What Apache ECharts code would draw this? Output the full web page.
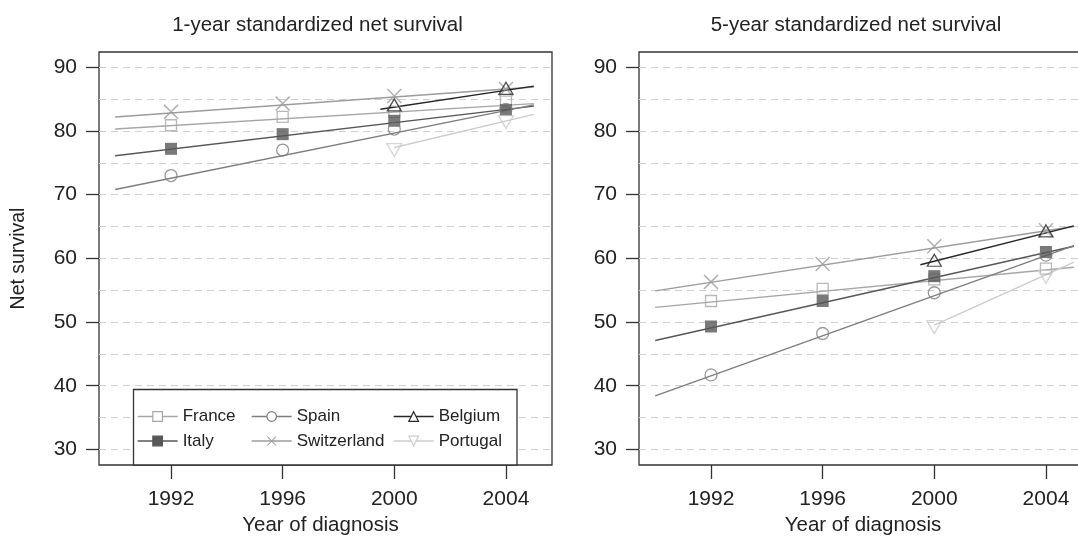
<!DOCTYPE html>
<html>
<head>
<meta charset="utf-8">
<script src="https://cdn.jsdelivr.net/npm/echarts@6/dist/echarts.min.js"></script>
<style>
  html, body { margin: 0; padding: 0; background: #fff; }
  #chart { width: 1078px; height: 538px; }
</style>
</head>
<body>
<div id="chart"></div>
<script>
// Years of diagnosis with observed estimates
const years = [1992, 1996, 2000, 2004];
const countries = ['France', 'Italy', 'Spain', 'Switzerland', 'Belgium', 'Portugal'];
const yTicks = [30, 40, 50, 60, 70, 80, 90];
const gridValues = [30, 35, 40, 45, 50, 55, 60, 65, 70, 75, 80, 85, 90];

// 1-year standardized net survival (%), one value per year of diagnosis
const france1 = [80.9, 82.2, 83.0, 84.6];
const italy1 = [77.2, 79.5, 81.6, 83.3];
const spain1 = [73.0, 77.0, 80.3, 83.4];
const switzerland1 = [83.0, 84.3, 85.5, 86.6];
const belgium1 = [null, null, 84.1, 86.7];
const portugal1 = [null, null, 77.0, 81.4];

// 5-year standardized net survival (%)
const france5 = [53.3, 55.2, 56.7, 58.4];
const italy5 = [49.3, 53.3, 57.2, 61.0];
const spain5 = [41.7, 48.2, 54.6, 60.5];
const switzerland5 = [56.3, 59.1, 61.9, 64.4];
const belgium5 = [null, null, 59.7, 64.3];
const portugal5 = [null, null, 49.2, 57.1];

// Linear trend lines: [year, survival] at each end
const franceTrend1 = [[1990, 80.3], [2005, 84.3]];
const italyTrend1 = [[1990, 76.1], [2005, 83.9]];
const spainTrend1 = [[1990, 70.8], [2005, 84.1]];
const switzerlandTrend1 = [[1990, 82.2], [2005, 86.9]];
const belgiumTrend1 = [[1999.5, 83.4], [2005, 87.05]];
const portugalTrend1 = [[2000, 77.4], [2005, 82.6]];

const franceTrend5 = [[1990, 52.3], [2005, 58.6]];
const italyTrend5 = [[1990, 47.1], [2005, 61.9]];
const spainTrend5 = [[1990, 38.4], [2005, 62.0]];
const switzerlandTrend5 = [[1990, 54.9], [2005, 65.0]];
const belgiumTrend5 = [[1999.5, 59.0], [2005, 65.1]];
const portugalTrend5 = [[2000, 49.5], [2005, 59.4]];

const FONT = '"Liberation Sans", Arial, Helvetica, sans-serif';
const TEXT = '#222';
const FRAME = '#333';
const X_PATH = 'path://M0,0.7 L0.7,0 L5,4.3 L9.3,0 L10,0.7 L5.7,5 L10,9.3 L9.3,10 L5,5.7 L0.7,10 L0,9.3 L4.3,5 Z';

// Marker look for each country
const looks = {
  France:      { color: '#a6a6a6', symbol: 'rect', size: 11, hollow: true },
  Italy:       { color: '#575757', symbol: 'rect', size: 12, hollow: false },
  Spain:       { color: '#7e7e7e', symbol: 'circle', size: 12, hollow: true },
  Switzerland: { color: '#9c9c9c', symbol: X_PATH, size: 15, hollow: false },
  Belgium:     { color: '#262626', symbol: 'triangle', size: [14, 12], hollow: true },
  Portugal:    { color: '#cccccc', symbol: 'triangle', size: [15, 13], hollow: true, rotate: 180 }
};

function markerStyle(lk) {
  return lk.hollow
    ? { color: 'rgba(255,255,255,0)', borderColor: lk.color, borderWidth: 1.3 }
    : { color: lk.color, borderColor: lk.color, borderWidth: 0 };
}

function toPoints(vals) {
  return years.map((y, i) => vals[i] == null ? null : [y, vals[i]]).filter(Boolean);
}

function panelSeries(panel, values, trends) {
  const lines = countries.map((c, k) => {
    const lk = looks[c];
    const s = {
      type: 'line', name: c, xAxisIndex: panel, yAxisIndex: panel,
      data: trends[k], showSymbol: false,
      symbol: lk.symbol, symbolRotate: lk.rotate || 0,
      lineStyle: { color: lk.color, width: 1.4 },
      itemStyle: markerStyle(lk),
      silent: true, emphasis: { disabled: true }, z: 3
    };
    if (k === 0) {
      s.markLine = {
        silent: true, animation: false, z: 1,
        symbol: ['none', 'none'],
        label: { show: false },
        lineStyle: { type: [7, 5], color: '#d0d0d0', width: 1 },
        emphasis: { disabled: true },
        data: gridValues.map(v => ({ yAxis: v }))
      };
    }
    return s;
  });
  const points = countries.map((c, k) => {
    const lk = looks[c];
    return {
      type: 'scatter', name: c, xAxisIndex: panel, yAxisIndex: panel,
      data: toPoints(values[k]),
      symbol: lk.symbol, symbolSize: lk.size, symbolRotate: lk.rotate || 0,
      itemStyle: markerStyle(lk),
      silent: true, emphasis: { disabled: true }, z: 4
    };
  });
  return lines.concat(points);
}

function xAxis(grid, pad) {
  return {
    gridIndex: grid, type: 'value', min: 1989.42, max: 2005.65,
    axisLine: { show: false },
    axisTick: { show: true, length: 14, customValues: years, lineStyle: { color: FRAME, width: 1.3 } },
    axisLabel: { customValues: years, margin: 24, fontSize: 21, color: TEXT, fontFamily: FONT, formatter: v => String(v) },
    splitLine: { show: false },
    name: 'Year of diagnosis', nameLocation: 'middle', nameGap: 47,
    nameTextStyle: { fontSize: 20.5, color: TEXT, fontFamily: FONT, padding: [0, pad, 0, 0] }
  };
}

function yAxis(grid, withName) {
  const ax = {
    gridIndex: grid, type: 'value', min: 27.55, max: 92.4,
    axisLine: { show: false },
    axisTick: { show: true, length: 13, customValues: yTicks, lineStyle: { color: FRAME, width: 1.3 } },
    axisLabel: { customValues: yTicks, margin: 22, fontSize: 21, color: TEXT, fontFamily: FONT },
    splitLine: { show: false }
  };
  if (withName) {
    Object.assign(ax, {
      name: 'Net survival', nameLocation: 'middle', nameGap: 70, nameRotate: 90,
      nameTextStyle: { fontSize: 19.5, color: TEXT, fontFamily: FONT }
    });
  }
  return ax;
}

const legendCommon = {
  orient: 'vertical', padding: 0, top: 406.5,
  itemWidth: 40, itemHeight: 12, itemGap: 4.5,
  selectedMode: false,
  textStyle: { fontSize: 17, color: TEXT, fontFamily: FONT, lineHeight: 20 },
  lineStyle: { width: 1.3 },
  itemStyle: { borderWidth: 1.2 }
};
const legendItem = name => {
  const lk = looks[name];
  if (lk.hollow) return { name, itemStyle: { color: '#fff' } };
  if (name === 'Switzerland') return { name, itemStyle: { borderWidth: 0 } };
  return { name };
};

const gridCommon = {
  top: 52, width: 453, height: 413, show: true,
  borderColor: FRAME, borderWidth: 1.3, backgroundColor: '#fff',
  outerBoundsMode: 'none', containLabel: false
};

const chart = echarts.init(document.getElementById('chart'), null, { renderer: 'canvas' });
chart.setOption({
  animation: false,
  backgroundColor: '#fff',
  title: [
    { text: '1-year standardized net survival', left: 317.5, top: 15, textAlign: 'center', padding: 0,
      textStyle: { fontSize: 20.5, fontWeight: 'normal', color: TEXT, fontFamily: FONT } },
    { text: '5-year standardized net survival', left: 856, top: 15, textAlign: 'center', padding: 0,
      textStyle: { fontSize: 20.5, fontWeight: 'normal', color: TEXT, fontFamily: FONT } }
  ],
  grid: [
    Object.assign({ left: 99 }, gridCommon),
    Object.assign({ left: 639 }, gridCommon)
  ],
  xAxis: [xAxis(0, 10), xAxis(1, 5)],
  yAxis: [yAxis(0, true), yAxis(1, false)],
  legend: [
    Object.assign({}, legendCommon, { left: 137, data: ['France', 'Italy'].map(legendItem) }),
    Object.assign({}, legendCommon, { left: 251, data: ['Spain', 'Switzerland'].map(legendItem) }),
    Object.assign({}, legendCommon, { left: 393, data: ['Belgium', 'Portugal'].map(legendItem) })
  ],
  graphic: [
    { type: 'rect', z: 3, silent: true,
      shape: { x: 133.5, y: 389.5, width: 383.5, height: 75.5 },
      style: { fill: '#fff', stroke: FRAME, lineWidth: 1.3 } }
  ],
  series: [].concat(
    panelSeries(0,
      [france1, italy1, spain1, switzerland1, belgium1, portugal1],
      [franceTrend1, italyTrend1, spainTrend1, switzerlandTrend1, belgiumTrend1, portugalTrend1]),
    panelSeries(1,
      [france5, italy5, spain5, switzerland5, belgium5, portugal5],
      [franceTrend5, italyTrend5, spainTrend5, switzerlandTrend5, belgiumTrend5, portugalTrend5])
  )
});
</script>
</body>
</html>
